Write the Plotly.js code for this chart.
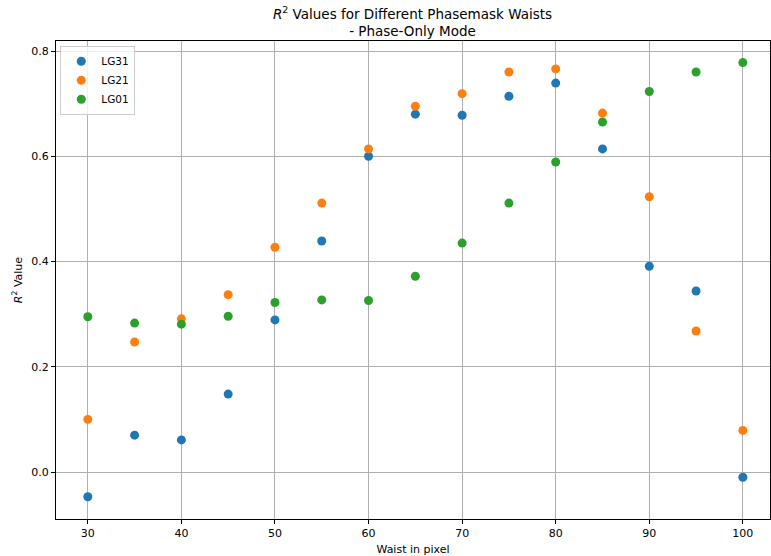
<!DOCTYPE html>
<html>
<head>
<meta charset="utf-8">
<script src="https://cdn.plot.ly/plotly-3.0.1.min.js"></script>
<style>html,body{margin:0;padding:0;background:#fff;}#chart{width:771px;height:556px;}</style>
</head>
<body>
<div id="chart"></div>
<script>
const waists = [30, 35, 40, 45, 50, 55, 60, 65, 70, 75, 80, 85, 90, 95, 100];
const lg31 = [-0.047, 0.070, 0.061, 0.148, 0.289, 0.439, 0.600, 0.680, 0.678, 0.714, 0.739, 0.614, 0.391, 0.344, -0.010];
const lg21 = [0.100, 0.247, 0.291, 0.337, 0.427, 0.511, 0.614, 0.695, 0.719, 0.760, 0.766, 0.682, 0.523, 0.268, 0.079];
const lg01 = [0.295, 0.283, 0.281, 0.296, 0.322, 0.327, 0.326, 0.372, 0.435, 0.511, 0.589, 0.665, 0.723, 0.760, 0.778];
const seriesNames = ['LG31', 'LG21', 'LG01'];
const colors = ['#1f77b4', '#ff7f0e', '#2ca02c'];
const xTicks = [30, 40, 50, 60, 70, 80, 90, 100];
const yTicks = [0.0, 0.2, 0.4, 0.6, 0.8];

const font = 'DejaVu Sans, sans-serif';
const traces = [lg31, lg21, lg01].map((ys, i) => ({
  type: 'scatter', mode: 'markers', name: seriesNames[i],
  x: waists, y: ys,
  marker: {color: colors[i], size: 9}
}));

const layout = {
  width: 771, height: 556,
  margin: {l: 56, r: 1, t: 41, b: 37},
  paper_bgcolor: '#fff', plot_bgcolor: '#fff',
  font: {family: font, size: 11, color: '#000'},
  title: {text: '<i>R</i><sup>2</sup> Values for Different Phasemask Waists<br>- Phase-Only Mode',
          font: {family: font, size: 13.5, color: '#000'}, x: 0.535, xanchor: 'center',
          yref: 'container', y: 0.966, yanchor: 'top'},
  showlegend: true,
  legend: {x: 0.006, y: 0.99, xanchor: 'left', yanchor: 'top', bgcolor: 'rgba(255,255,255,0.8)',
           bordercolor: '#ccc', borderwidth: 1, font: {family: font, size: 10.5}, itemwidth: 30,
           tracegroupgap: 0},
  xaxis: {range: [26.6, 102.9], tickvals: xTicks, ticktext: xTicks.map(String),
          showgrid: true, gridcolor: '#b0b0b0', gridwidth: 1, zeroline: false,
          showline: true, linecolor: '#000', linewidth: 1, mirror: true,
          ticks: 'outside', ticklen: 4, tickcolor: '#000',
          title: {text: 'Waist in pixel', font: {family: font, size: 11}, standoff: 6}},
  yaxis: {range: [-0.0893, 0.819], tickvals: yTicks, ticktext: yTicks.map(v => v.toFixed(1)),
          showgrid: true, gridcolor: '#b0b0b0', gridwidth: 1, zeroline: false,
          showline: true, linecolor: '#000', linewidth: 1, mirror: true,
          ticks: 'outside', ticklen: 4, tickcolor: '#000',
          title: {text: '<i>R</i><sup>2</sup> Value', font: {family: font, size: 11}, standoff: 6}}
};
Plotly.newPlot('chart', traces, layout, {displayModeBar: false});
</script>
</body>
</html>
